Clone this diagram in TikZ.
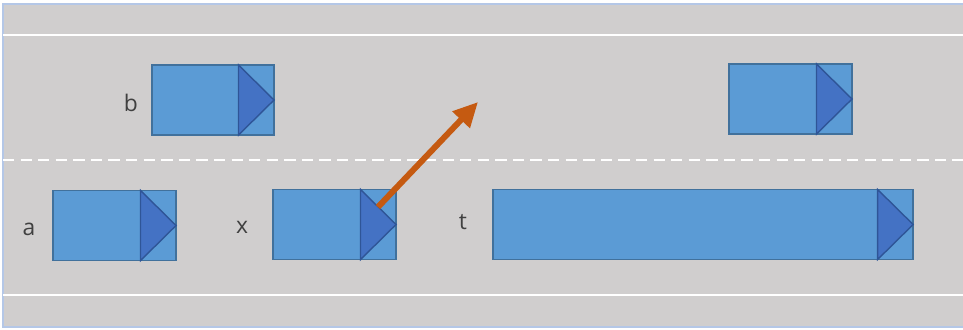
\documentclass[tikz,border=0pt]{standalone}
\usepackage{fontspec}
\setsansfont{Open Sans}
\usepackage{tikz}
\usetikzlibrary{positioning,arrows.meta,calc}

\definecolor{road}{HTML}{D0CECE}
\definecolor{roadedge}{HTML}{B4C7E7}
\definecolor{carfill}{HTML}{5B9BD5}
\definecolor{carline}{HTML}{41719C}
\definecolor{nosefill}{HTML}{4472C4}
\definecolor{noseline}{HTML}{2F5597}
\definecolor{moveorange}{HTML}{C55A11}

\begin{document}
\begin{tikzpicture}[
  x=0.01cm, y=-0.01cm,
  car/.style={rectangle,fill=carfill,draw=carline,line width=0.4pt,
              minimum height=0.70cm,inner sep=0pt,outer sep=0pt},
  nose/.style={fill=nosefill,draw=noseline,line width=0.4pt,line join=miter},
  lbl/.style={font=\sffamily\fontsize{6.5}{8}\selectfont,text=black!75,
              inner sep=0pt},
  lane/.style={draw=white,line width=0.6pt},
  move/.style={-{Triangle[length=7pt,width=6.5pt]},draw=moveorange,
               line width=1.7pt}]

\useasboundingbox (0,0) rectangle (963,329);

% ============ road ============
\fill[white] (0,0) rectangle (963,329);
\filldraw[fill=road,draw=roadedge,line width=0.4pt] (3,4) rectangle (966,327);
\draw[lane] (3,35) -- (963,35);
\draw[lane] (3,295) -- (963,295);
\draw[lane,dash pattern=on 3.2pt off 1.8pt] (3,160) -- (963,160);

% ============ cars ============
\node[car,minimum width=1.22cm] (carB) at (213,100)   {};
\node[car,minimum width=1.23cm] (carR) at (790.5,99) {};
\node[car,minimum width=1.23cm] (carA) at (114.5,225.5) {};
\node[car,minimum width=1.23cm] (carX) at (334.5,224.5) {};
\node[car,minimum width=4.20cm] (carT) at (703,224.5) {};

% noses
\foreach \c in {carB,carR,carA,carX,carT}
  \filldraw[nose] ([xshift=-0.355cm]\c.north east) -- (\c.east)
    -- ([xshift=-0.355cm]\c.south east) -- cycle;

% ============ labels ============
\node[lbl] (labB) at (131,103) {b};
\node[lbl] (labA) at (29,229)  {a};
\node[lbl] (labX) at (242,227) {x};
\node[lbl] (labT) at (463,222) {t};

% ============ lane change ============
\coordinate (xstart) at (378,207);
\coordinate (xgoal)  at (478,102);
\draw[move] (xstart) -- (xgoal);

\end{tikzpicture}
\end{document}
